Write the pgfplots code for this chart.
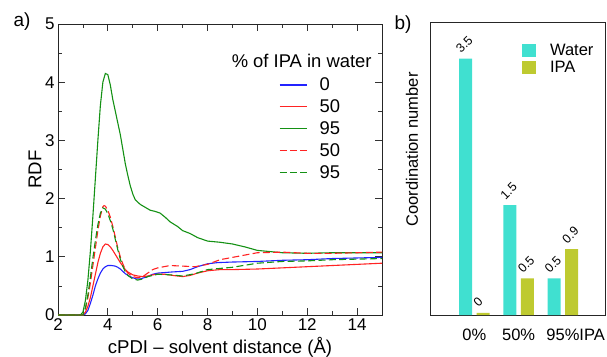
\documentclass[border=0pt]{standalone}
\usepackage{fontspec}
\setmainfont{Liberation Sans}
\usepackage{pgfplots}
\pgfplotsset{compat=1.18}
\definecolor{wat}{RGB}{64,224,208}
\definecolor{ipa}{RGB}{190,202,48}
\definecolor{gr}{RGB}{20,145,20}
\definecolor{rd}{RGB}{255,35,35}
\definecolor{bl}{RGB}{35,35,255}
\begin{document}
\begin{tikzpicture}
\path[use as bounding box] (0pt,0pt) rectangle (607pt,356pt);
\begin{axis}[at={(58pt,41pt)}, anchor=south west, scale only axis,
  width=324pt, height=291pt,
  xmin=2, xmax=15, ymin=0, ymax=5,
  xtick={2,4,...,14}, ytick={0,1,...,5},
  minor x tick num=1, minor y tick num=1,
  tick align=inside, major tick length=7pt, minor tick length=4pt,
  tick style={black!80, line width=0.8pt},
  axis line style={black!85, line width=0.9pt},
  font=\fontsize{17}{20}\selectfont,
  /pgf/number format/assume math mode=true,
  xlabel={cPDI – solvent distance (Å)},
  ylabel={RDF},
  label style={font=\fontsize{18.6}{21}\selectfont},
  xlabel style={at={(axis description cs:0.5,-0.11)}, anchor=center},
  ylabel style={at={(axis description cs:-0.071,0.5)}, anchor=center},
  legend style={at={(axis description cs:0.682,0.822)}, anchor=north west, draw=none, fill=none,
    inner sep=0pt, outer sep=0pt,
    font=\fontsize{18.4}{21}\selectfont, row sep=3.6pt},
  legend cell align=left,
  legend image code/.code={\draw[#1] (0pt,0pt) -- (27.5pt,0pt);},
]
\addplot[draw=bl, line width=1.1pt] coordinates {(2,0) (2.9,0) (3.0,0) (3.1,0.02) (3.2,0.08) (3.3,0.2) (3.4,0.34) (3.5,0.5) (3.6,0.62) (3.7,0.72) (3.8,0.79) (3.9,0.83) (4.0,0.85) (4.15,0.85) (4.3,0.84) (4.4,0.82) (4.5,0.79) (4.6,0.75) (4.7,0.71) (4.85,0.67) (5.0,0.64) (5.15,0.62) (5.3,0.62) (5.45,0.64) (5.6,0.66) (5.8,0.7) (6.0,0.72) (6.3,0.73) (6.6,0.74) (7,0.75) (7.3,0.78) (7.6,0.83) (8,0.88) (8.4,0.9) (9,0.91) (10,0.92) (11,0.94) (12,0.95) (13,0.97) (14,0.98) (15,0.99)};
\addlegendentry{\hspace{10pt}0}
\addplot[draw=rd, line width=1.1pt] coordinates {(2,0) (2.9,0) (3.0,0) (3.1,0.05) (3.2,0.15) (3.3,0.3) (3.4,0.5) (3.5,0.7) (3.6,0.9) (3.7,1.06) (3.8,1.17) (3.9,1.22) (4.0,1.21) (4.1,1.17) (4.2,1.11) (4.3,1.04) (4.4,0.97) (4.5,0.9) (4.6,0.84) (4.7,0.78) (4.8,0.74) (5.0,0.69) (5.2,0.67) (5.4,0.66) (5.6,0.67) (5.8,0.69) (6.0,0.70) (6.3,0.70) (6.6,0.68) (7,0.66) (7.3,0.68) (7.6,0.72) (8,0.76) (8.5,0.78) (9,0.78) (10,0.79) (11,0.81) (12,0.83) (13,0.85) (14,0.87) (15,0.89)};
\addlegendentry{\hspace{10pt}50}
\addplot[draw=gr, line width=1.1pt] coordinates {(2,0) (2.9,0) (3.0,0.05) (3.1,0.25) (3.2,0.6) (3.3,1.1) (3.4,1.7) (3.5,2.35) (3.6,3.0) (3.7,3.6) (3.8,4.0) (3.9,4.15) (4.0,4.13) (4.1,3.95) (4.2,3.7) (4.3,3.5) (4.4,3.3) (4.5,3.1) (4.6,2.85) (4.7,2.6) (4.8,2.4) (4.9,2.22) (5.0,2.08) (5.1,1.98) (5.3,1.9) (5.5,1.85) (5.7,1.8) (5.9,1.78) (6.1,1.75) (6.3,1.68) (6.5,1.6) (6.8,1.52) (7,1.45) (7.3,1.4) (7.6,1.33) (8,1.27) (8.5,1.25) (9,1.22) (9.5,1.17) (10,1.11) (10.5,1.09) (11,1.07) (12,1.06) (13,1.07) (14,1.07) (15,1.07)};
\addlegendentry{\hspace{10pt}95}
\addplot[draw=rd, line width=1.1pt, dash pattern=on 7pt off 3.3pt] coordinates {(2,0) (2.9,0) (3.0,0) (3.1,0.1) (3.2,0.3) (3.3,0.55) (3.4,0.85) (3.5,1.15) (3.6,1.45) (3.7,1.7) (3.8,1.86) (3.85,1.88) (3.9,1.87) (4.0,1.8) (4.1,1.68) (4.2,1.52) (4.3,1.34) (4.4,1.15) (4.5,1.0) (4.6,0.88) (4.7,0.78) (4.8,0.72) (5.0,0.66) (5.2,0.64) (5.4,0.66) (5.6,0.72) (5.8,0.78) (6.0,0.81) (6.5,0.85) (7,0.84) (7.5,0.83) (8,0.87) (8.5,0.95) (9,0.99) (9.5,1.03) (10,1.07) (11,1.08) (12,1.06) (13,1.06) (14,1.07) (15,1.08)};
\addlegendentry{\hspace{10pt}50}
\addplot[draw=gr, line width=1.1pt, dash pattern=on 7pt off 3.3pt] coordinates {(2,0) (2.9,0) (3.0,0) (3.1,0.12) (3.2,0.35) (3.3,0.65) (3.4,0.98) (3.5,1.28) (3.6,1.55) (3.7,1.75) (3.8,1.84) (3.9,1.82) (4.0,1.74) (4.1,1.62) (4.2,1.48) (4.3,1.3) (4.4,1.12) (4.5,0.96) (4.6,0.84) (4.7,0.74) (4.8,0.68) (5.0,0.62) (5.2,0.6) (5.4,0.62) (5.6,0.66) (6.0,0.7) (6.5,0.69) (7,0.67) (7.5,0.71) (8,0.78) (8.5,0.8) (9,0.82) (10,0.89) (11,0.92) (12,0.93) (13,0.95) (14,0.96) (15,0.97)};
\addlegendentry{\hspace{10pt}95}
\node[anchor=center, font=\fontsize{18.4}{21}\selectfont] at (rel axis cs:0.752,0.873) {\% of IPA in water};
\end{axis}
\node[font=\fontsize{19}{22}\selectfont] at (22pt,334pt) {a)};
\node[font=\fontsize{19}{22}\selectfont] at (403pt,331pt) {b)};
\begin{axis}[at={(430pt,41pt)}, anchor=south west, scale only axis,
  width=175pt, height=293pt,
  xmin=-1, xmax=2.95, ymin=0, ymax=4,
  ytick=\empty, xtick={0,1,2}, xticklabels={0\%,50\%,95\%\rlap{IPA}},
  major tick length=0pt,
  axis line style={black!85, line width=0.9pt},
  font=\fontsize{16.5}{19}\selectfont,
  ylabel={Coordination number},
  ylabel style={at={(axis description cs:-0.103,0.565)}, anchor=center},
  xticklabel style={yshift=-10pt},
  ybar, bar width=13pt,
  point meta=explicit symbolic,
  nodes near coords,
  every node near coord/.append style={font=\fontsize{12.5}{14}\selectfont, yshift=4pt, anchor=south west, rotate=45, xshift=-6pt},
  legend style={at={(axis description cs:0.526,0.93)}, anchor=north west, draw=none, fill=none,
    inner sep=0pt, outer sep=0pt,
    font=\fontsize{16.5}{19}\selectfont, row sep=0pt},
  legend cell align=left,
  legend image code/.code={\fill[#1] (0pt,-6.5pt) rectangle (14pt,6.5pt);},
]
\addplot[fill=wat, draw=none, bar shift=-8.75pt] coordinates {(0,3.5) [3.5] (1,1.5) [1.5] (2,0.5) [0.5]};
\addlegendentry{\hspace{12pt}Water}
\addplot[fill=ipa, draw=none, bar shift=8.75pt] coordinates {(0,0.03) [0] (1,0.5) [0.5] (2,0.9) [0.9]};
\addlegendentry{\hspace{12pt}IPA}
\end{axis}
\end{tikzpicture}
\end{document}
